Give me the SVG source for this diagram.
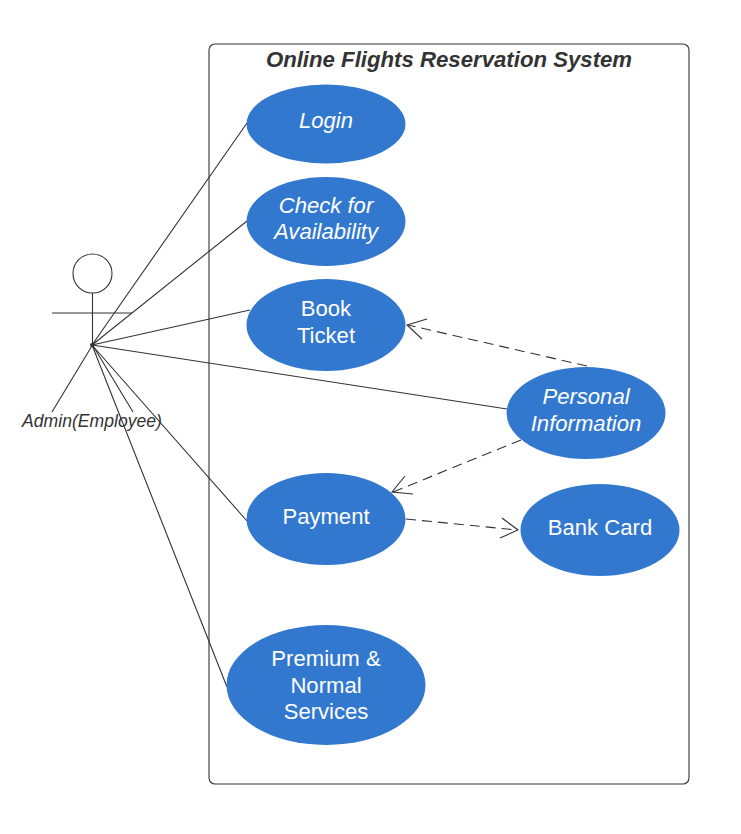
<svg xmlns="http://www.w3.org/2000/svg" width="741" height="834" viewBox="0 0 741 834">
<style>
.l{fill:none;stroke:#333;stroke-width:1.1}
.d{fill:none;stroke:#333;stroke-width:1.1;stroke-dasharray:10 6}
.h{fill:none;stroke:#333;stroke-width:1.1}
.u{fill:#3278cf}
text{font-family:"Liberation Sans",Arial,sans-serif;text-anchor:middle}
.t{fill:#fff;font-size:22.1px}
.i{font-style:italic}
</style>
<rect width="741" height="834" fill="#fff"/>
<g id="system"><rect x="209" y="44" width="480" height="740" rx="6" fill="#fff" stroke="#333" stroke-width="1.1"/>
<text x="449" y="67" font-size="22.2" font-weight="700" font-style="italic" fill="#333">Online Flights Reservation System</text></g>
<g id="connectors">
<path class="l" d="M92 345L247 123M92 345L247 221M92 345L250 310M92 345L507 409M92 345L247 521M92 345L227 687"/>
<circle cx="92" cy="345" r="2" fill="#333"/>
<path class="d" d="M587 366L408 325"/><path class="h" d="M427 319L407 325L422 339"/>
<path class="d" d="M521 440L393 492"/><path class="h" d="M405 476L392 492L413 494"/>
<path class="d" d="M406 519L517 530"/><path class="h" d="M502 518L518 530L500 538"/>
</g>
<g id="actor"><circle cx="92.500" cy="273.500" r="19.500" fill="#fff" stroke="#333" stroke-width="1.1"/>
<path class="l" d="M92.500 293V345M52 313H132M92.500 345L52 412M92.500 345L133 412"/>
<text x="92" y="427" font-size="17.600" font-style="italic" fill="#333">Admin(Employee)</text></g>
<g id="login"><ellipse class="u" cx="326" cy="124" rx="79.500" ry="39.500"/><text class="t i" x="326" y="128">Login</text></g>
<g id="check"><ellipse class="u" cx="326" cy="221.500" rx="79.500" ry="44.500"/><text class="t i" x="326" y="213">Check for</text><text class="t i" x="326" y="239">Availability</text></g>
<g id="book"><ellipse class="u" cx="326" cy="325" rx="79.500" ry="46"/><text class="t" x="326" y="316">Book</text><text class="t" x="326" y="343">Ticket</text></g>
<g id="personal"><ellipse class="u" cx="586" cy="413" rx="79.500" ry="46"/><text class="t i" x="586" y="404">Personal</text><text class="t i" x="586" y="431">Information</text></g>
<g id="payment"><ellipse class="u" cx="326" cy="519" rx="79.500" ry="46"/><text class="t" x="326" y="524">Payment</text></g>
<g id="bank"><ellipse class="u" cx="600" cy="530" rx="79.500" ry="46"/><text class="t" x="600" y="535">Bank Card</text></g>
<g id="premium"><ellipse class="u" cx="326" cy="685" rx="99.500" ry="60"/><text class="t" x="326" y="666">Premium &amp;</text><text class="t" x="326" y="693">Normal</text><text class="t" x="326" y="719">Services</text></g>
</svg>
